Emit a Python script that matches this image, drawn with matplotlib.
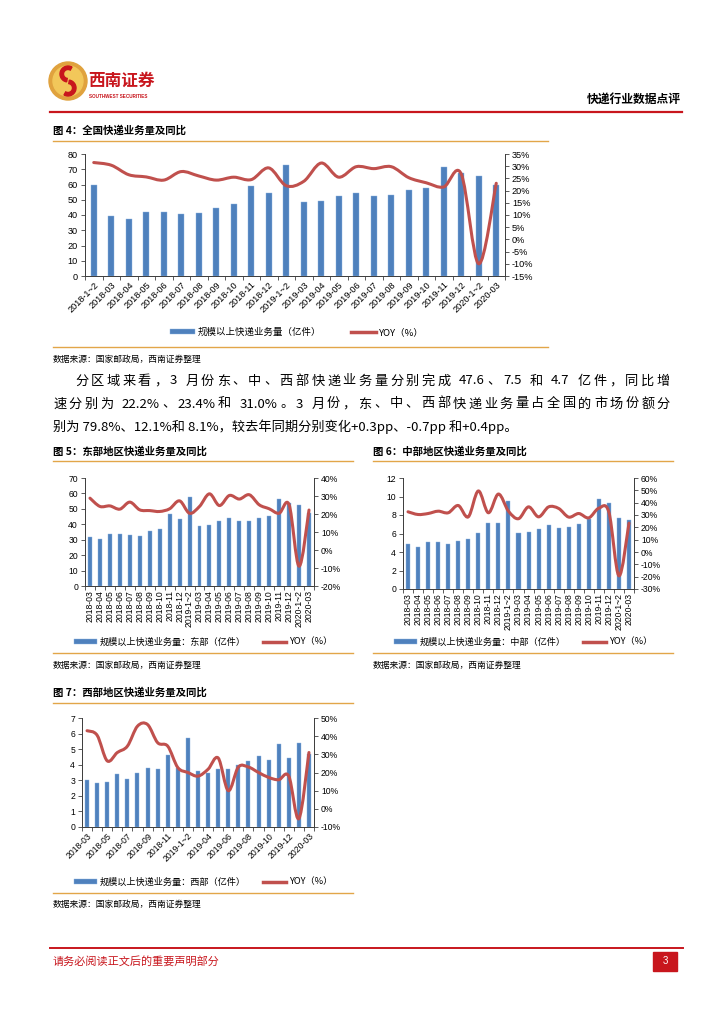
import re
import numpy as np
import matplotlib
matplotlib.use('Agg')
import matplotlib.pyplot as plt
from matplotlib.path import Path
from matplotlib.patches import PathPatch, Patch, Circle, Wedge, Rectangle
from matplotlib.lines import Line2D

CJK = ['Noto Sans CJK SC', 'DejaVu Sans']
NUM = ['Liberation Sans', 'Noto Sans CJK SC']
BLUE = '#4F81BD'
RED = '#C0504D'
GOLD = '#E2A649'
BRAND = '#C8161D'

cats_nat = ['2018-1~2'] + ['2018-%02d' % m for m in range(3, 13)] + \
           ['2019-1~2'] + ['2019-%02d' % m for m in range(3, 13)] + ['2020-1~2', '2020-03']
cats_reg = cats_nat[1:]

nat_vol = [60.0, 39.5, 37.5, 41.7, 42.2, 40.8, 41.0, 44.8, 47.0, 58.8, 54.2, 73.0,
           48.6, 49.2, 52.5, 54.6, 52.5, 53.0, 56.2, 57.6, 71.3, 67.5, 65.5, 59.8]
nat_yoy = [31.5, 30.4, 26.5, 25.6, 24.3, 27.8, 26.0, 24.3, 25.5, 24.5, 29.3, 22.0,
           23.8, 31.3, 25.5, 29.8, 29.0, 29.8, 25.3, 23.2, 21.5, 26.8, -10.0, 23.0]

east_vol = [31.7, 30.2, 33.9, 33.9, 32.8, 32.2, 35.7, 37.2, 46.7, 43.3, 57.6, 39.1,
            39.6, 42.4, 44.1, 42.2, 42.2, 44.3, 45.4, 56.3, 53.7, 52.4, 47.6]
east_yoy = [28.8, 24.2, 24.5, 22.7, 26.6, 22.3, 21.9, 21.4, 22.9, 27.3, 20.4, 24.2,
            31.2, 24.7, 30.3, 28.3, 30.7, 25.1, 22.9, 20.4, 25.1, -9.0, 22.2]

mid_vol = [4.84, 4.50, 5.05, 5.09, 4.87, 5.23, 5.41, 6.06, 7.17, 7.13, 9.50, 6.09,
           6.13, 6.45, 6.88, 6.60, 6.70, 7.06, 7.60, 9.68, 9.28, 7.70, 7.50]
mid_yoy = [32.6, 30.4, 31.2, 33.1, 31.8, 37.7, 28.5, 49.5, 31.8, 47.0, 33.1, 27.0,
           36.6, 28.5, 36.6, 35.3, 28.3, 31.2, 27.7, 35.5, 32.3, -19.3, 23.4]

west_vol = [3.05, 2.80, 2.90, 3.40, 3.10, 3.45, 3.80, 3.70, 4.60, 3.80, 5.70, 3.60,
            3.45, 3.70, 3.75, 4.00, 4.25, 4.55, 4.30, 5.30, 4.40, 5.40, 4.70]
west_yoy = [43.0, 40.5, 26.4, 31.0, 34.5, 45.5, 46.4, 36.4, 34.5, 22.7, 20.0, 18.0,
            21.8, 28.0, 10.0, 23.0, 23.0, 20.0, 17.3, 16.0, 18.0, -5.4, 31.0]

body = ['分区域来看，3 月份东、中、西部快递业务量分别完成 47.6、7.5 和 4.7 亿件，同比增',
        '速分别为 22.2%、23.4%和 31.0%。3 月份，东、中、西部快递业务量占全国的市场份额分',
        '别为 79.8%、12.1%和 8.1%，较去年同期分别变化+0.3pp、-0.7pp 和+0.4pp。']
source = '数据来源：国家邮政局，西南证券整理'

W, H = 724, 1024
fig = plt.figure(figsize=(W / 100, H / 100), dpi=100)
renderer = fig.canvas.get_renderer()

bg = fig.add_axes([0, 0, 1, 1])
bg.set_xlim(0, W)
bg.set_ylim(H, 0)
bg.axis('off')


def box(x0, y0, x1, y1):
    return [x0 / W, 1 - y1 / H, (x1 - x0) / W, (y1 - y0) / H]


def justify(s, x0, x1, y, fs):
    # word-style justify: numbers stay together, gaps between tokens are stretched
    toks = re.findall(r'[A-Za-z0-9.%+\-]+| |.', s)
    widths = []
    for tk in toks:
        if tk == ' ':
            widths.append(fs * 100 / 72 * 0.25)
            continue
        t = bg.text(0, 0, tk, family=CJK, fontsize=fs)
        widths.append(t.get_window_extent(renderer).width)
        t.remove()
    extra = (x1 - x0 - sum(widths)) / (len(toks) - 1)
    x = x0
    for tk, w in zip(toks, widths):
        if tk != ' ':
            bg.text(x, y, tk, family=CJK, fontsize=fs, va='center', ha='left')
        x += w + extra


def smooth(ax, xs, ys, color, lw):
    # excel-style smoothed line drawn as a bezier path through the points
    p = np.column_stack([xs, ys]).astype(float)
    ext = np.vstack([p[0], p, p[-1]])
    verts = [tuple(p[0])]
    codes = [Path.MOVETO]
    for i in range(len(p) - 1):
        a, b, c, d = ext[i], ext[i + 1], ext[i + 2], ext[i + 3]
        verts += [tuple(b + (c - a) / 6), tuple(c - (d - b) / 6), tuple(c)]
        codes += [Path.CURVE4] * 3
    ax.add_patch(PathPatch(Path(verts, codes), fill=False, edgecolor=color,
                           lw=lw, capstyle='round', joinstyle='round', zorder=3))


def chart(rect, cats, vol, yoy, vlim, vstep, ylim, ystep, rot, fs, bw, every=1, legend_lbl='',
          leg_xy=(0, 0), lfs=6.6, colsp=1.8):
    ax = fig.add_axes(box(*rect))
    n = len(cats)
    x = np.arange(n)
    ax.bar(x, vol, width=bw, color=BLUE, edgecolor='#8DB3E2', linewidth=0.3, zorder=2)
    ax.set_xlim(-0.5, n - 0.5)
    ax.set_ylim(*vlim)
    vt = np.arange(vlim[0], vlim[1] + 0.001, vstep)
    ax.set_yticks(vt)
    ax.set_yticklabels(['%g' % v for v in vt], family=NUM, fontsize=fs)
    ax.set_xticks(x[::every])
    if rot == 90:
        ax.set_xticklabels(cats[::every], rotation=90, ha='center', va='top',
                           family=NUM, fontsize=fs)
    else:
        ax.set_xticklabels(cats[::every], rotation=45, ha='right', va='top',
                           rotation_mode='anchor', family=NUM, fontsize=fs)
    ax.set_xticks(np.arange(n + 1) - 0.5, minor=True)
    ax.tick_params(axis='x', which='major', length=0, pad=3)
    ax.tick_params(axis='x', which='minor', length=3, width=0.6, color='#404040')
    ax.tick_params(axis='y', length=3, width=0.6, color='#404040', pad=2)
    ax.spines['top'].set_visible(False)
    for s in ['left', 'bottom', 'right']:
        ax.spines[s].set_color('#404040')
        ax.spines[s].set_linewidth(0.7)

    ax2 = ax.twinx()
    ax2.set_ylim(*ylim)
    yt = np.arange(ylim[0], ylim[1] + 0.001, ystep)
    ax2.set_yticks(yt)
    ax2.set_yticklabels(['%g%%' % v for v in yt], family=NUM, fontsize=fs)
    ax2.tick_params(axis='y', length=3, width=0.6, color='#404040', pad=2)
    ax2.spines['top'].set_visible(False)
    for s in ['left', 'bottom', 'right']:
        ax2.spines[s].set_color('#404040')
        ax2.spines[s].set_linewidth(0.7)
    smooth(ax2, x, yoy, RED, 2.2)

    fig.legend(handles=[Patch(facecolor=BLUE, edgecolor='#8DB3E2', lw=0.3),
                        Line2D([], [], color=RED, lw=2.5)],
               labels=[legend_lbl, 'YOY（%）'], loc='center',
               bbox_to_anchor=(leg_xy[0] / W, 1 - leg_xy[1] / H), ncol=2, frameon=False,
               prop={'family': CJK, 'size': lfs}, handlelength=2.6, handleheight=0.5,
               handletextpad=0.3, columnspacing=colsp, borderaxespad=0)
    return ax


# ---- header ----
bg.add_patch(Circle((68, 81), 19, color='#E0A23E', zorder=1))
bg.add_patch(Circle((68, 81), 15, color='#F2C75A', zorder=1))
bg.add_patch(Wedge((68, 74), 8, 100, 300, width=3.5, color=BRAND, zorder=2))
bg.add_patch(Wedge((68, 88), 8, 280, 120, width=3.5, color=BRAND, zorder=2))
bg.text(88, 81, '西南证券', family=CJK, fontsize=12, fontweight='bold', color=BRAND,
        va='center', ha='left')
bg.text(89, 97, 'SOUTHWEST SECURITIES', family=NUM, fontsize=3.3, color=BRAND,
        va='center', ha='left', fontweight='bold')
bg.text(681, 99, '快递行业数据点评', family=CJK, fontsize=8.5, fontweight='bold',
        va='center', ha='right')
bg.plot([50, 682], [112, 112], color=BRAND, lw=1.6)

# ---- figure 4 ----
bg.text(53, 130, '图 4：全国快递业务量及同比', family=CJK, fontsize=7.5, fontweight='bold',
        va='center')
bg.plot([53, 548], [141, 141], color=GOLD, lw=1.0)
chart((85, 154, 505, 276), cats_nat, nat_vol, nat_yoy, (0, 80), 10, (-15, 35), 5,
      45, 6.6, 0.36, legend_lbl='规模以上快递业务量（亿件）', leg_xy=(297, 332),
      lfs=6.8, colsp=3.2)
bg.plot([53, 548], [347, 347], color=GOLD, lw=1.0)
bg.text(53, 359, source, family=CJK, fontsize=6.3, va='center', style='italic')

# ---- body text ----
justify(body[0], 75, 670, 381, 9.5)
justify(body[1], 53, 670, 404, 9.5)
bg.text(53, 427, body[2], family=CJK, fontsize=9.5, va='center')

# ---- figure 5 / 6 ----
bg.text(53, 451, '图 5：东部地区快递业务量及同比', family=CJK, fontsize=7.5,
        fontweight='bold', va='center')
bg.text(373, 451, '图 6：中部地区快递业务量及同比', family=CJK, fontsize=7.5,
        fontweight='bold', va='center')
bg.plot([53, 353], [461, 461], color=GOLD, lw=1.0)
bg.plot([373, 673], [461, 461], color=GOLD, lw=1.0)
chart((85, 478, 314, 586), cats_reg, east_vol, east_yoy, (0, 70), 10, (-20, 40), 10,
      90, 6.2, 0.4, legend_lbl='规模以上快递业务量：东部（亿件）', leg_xy=(203, 642))
chart((403, 478, 634, 589), cats_reg, mid_vol, mid_yoy, (0, 12), 2, (-30, 60), 10,
      90, 6.2, 0.4, legend_lbl='规模以上快递业务量：中部（亿件）', leg_xy=(523, 642))
bg.plot([53, 353], [653, 653], color=GOLD, lw=1.0)
bg.plot([373, 673], [653, 653], color=GOLD, lw=1.0)
bg.text(53, 665, source, family=CJK, fontsize=6.3, va='center', style='italic')
bg.text(373, 665, source, family=CJK, fontsize=6.3, va='center', style='italic')

# ---- figure 7 ----
bg.text(53, 692, '图 7：西部地区快递业务量及同比', family=CJK, fontsize=7.5,
        fontweight='bold', va='center')
bg.plot([53, 353], [703, 703], color=GOLD, lw=1.0)
chart((82, 718, 314, 827), cats_reg, west_vol, west_yoy, (0, 7), 1, (-10, 50), 10,
      45, 6.2, 0.4, every=2, legend_lbl='规模以上快递业务量：西部（亿件）', leg_xy=(203, 882))
bg.plot([53, 353], [893, 893], color=GOLD, lw=1.0)
bg.text(53, 904, source, family=CJK, fontsize=6.3, va='center', style='italic')

# ---- footer ----
bg.plot([50, 683], [948, 948], color=BRAND, lw=1.4)
bg.text(53, 961, '请务必阅读正文后的重要声明部分', family=CJK, fontsize=8, color=BRAND,
        va='center')
bg.add_patch(Rectangle((653, 952), 24, 19, color=BRAND))
bg.text(665, 961.5, '3', family=NUM, fontsize=7, color='white', va='center', ha='center')

fig.savefig('out.png', dpi=100)
